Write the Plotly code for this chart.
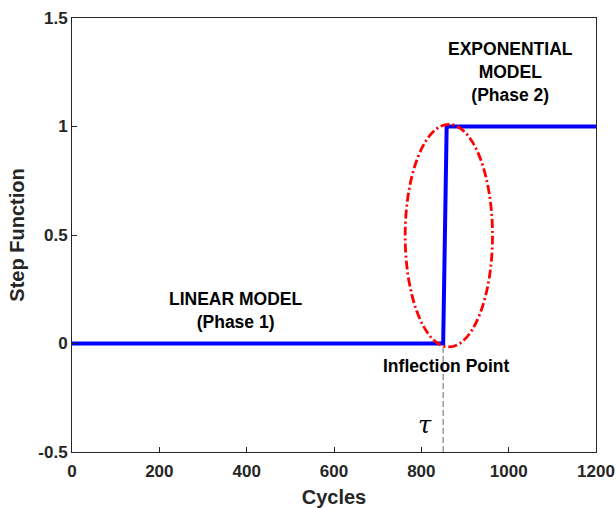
import plotly.graph_objects as go

# data
step_x = [0, 850, 858, 1200]
step_y = [0, 0, 1, 1]
tau_x = [850, 850]
tau_y = [-0.5, 0]
ellipse_center = (863, 0.497)
ellipse_radius = (100, 0.513)
x_ticks = [0, 200, 400, 600, 800, 1000, 1200]
y_ticks = [-0.5, 0, 0.5, 1, 1.5]
y_ticklabels = ["-0.5", "0", "0.5", "1", "1.5"]

FONT = "Arial, Liberation Sans, sans-serif"

fig = go.Figure()
fig.add_trace(go.Scatter(x=tau_x, y=tau_y, mode="lines",
                         line=dict(color="#8c8c8c", width=1.3, dash="6px,3px"),
                         hoverinfo="skip", showlegend=False))
fig.add_trace(go.Scatter(x=step_x, y=step_y, mode="lines",
                         line=dict(color="#0000ff", width=4),
                         showlegend=False))

cx, cy = ellipse_center
rx, ry = ellipse_radius
fig.add_shape(type="circle", xref="x", yref="y",
              x0=cx - rx, x1=cx + rx, y0=cy - ry, y1=cy + ry,
              line=dict(color="#ff0000", width=2.8, dash="9px,3px,2px,3px"))

txt = dict(family=FONT, size=17.5, color="#000000")
fig.add_annotation(x=1005, y=1.25, text="<b>EXPONENTIAL<br>MODEL<br>(Phase 2)</b>",
                   showarrow=False, font=txt, align="center")
fig.add_annotation(x=375, y=0.15, text="<b>LINEAR MODEL<br>(Phase 1)</b>",
                   showarrow=False, font=txt, align="center")
fig.add_annotation(x=857, y=-0.105, text="<b>Inflection Point</b>",
                   showarrow=False, font=txt, bgcolor="rgba(0,0,0,0)")
fig.add_annotation(x=808, y=-0.375, text="<i>τ</i>", showarrow=False,
                   font=dict(family="DejaVu Serif, serif", size=24, color="#000000"))

axis_common = dict(showgrid=False, zeroline=False, showline=True, mirror=True,
                   linecolor="#262626", linewidth=1, ticks="inside", ticklen=5,
                   tickcolor="#262626",
                   tickfont=dict(family=FONT, size=17, color="#262626", weight="bold"))

fig.update_xaxes(range=[0, 1200], tickvals=x_ticks, ticklabelstandoff=4,
                 title=dict(text="<b>Cycles</b>", font=dict(family=FONT, size=20, color="#262626"),
                            standoff=10),
                 automargin=False, **axis_common)
fig.update_yaxes(range=[-0.5, 1.5], tickvals=y_ticks, ticktext=y_ticklabels,
                 title=dict(text="<b>Step Function</b>", font=dict(family=FONT, size=20, color="#262626"),
                            standoff=8),
                 automargin=False, **axis_common)

fig.update_layout(width=616, height=508,
                  margin=dict(l=72, r=20, t=18, b=56),
                  paper_bgcolor="white", plot_bgcolor="white",
                  font=dict(family=FONT))

fig.write_html("out.html", config={"displayModeBar": False},
               post_script="document.body.style.margin='0';document.body.style.overflow='hidden';")
